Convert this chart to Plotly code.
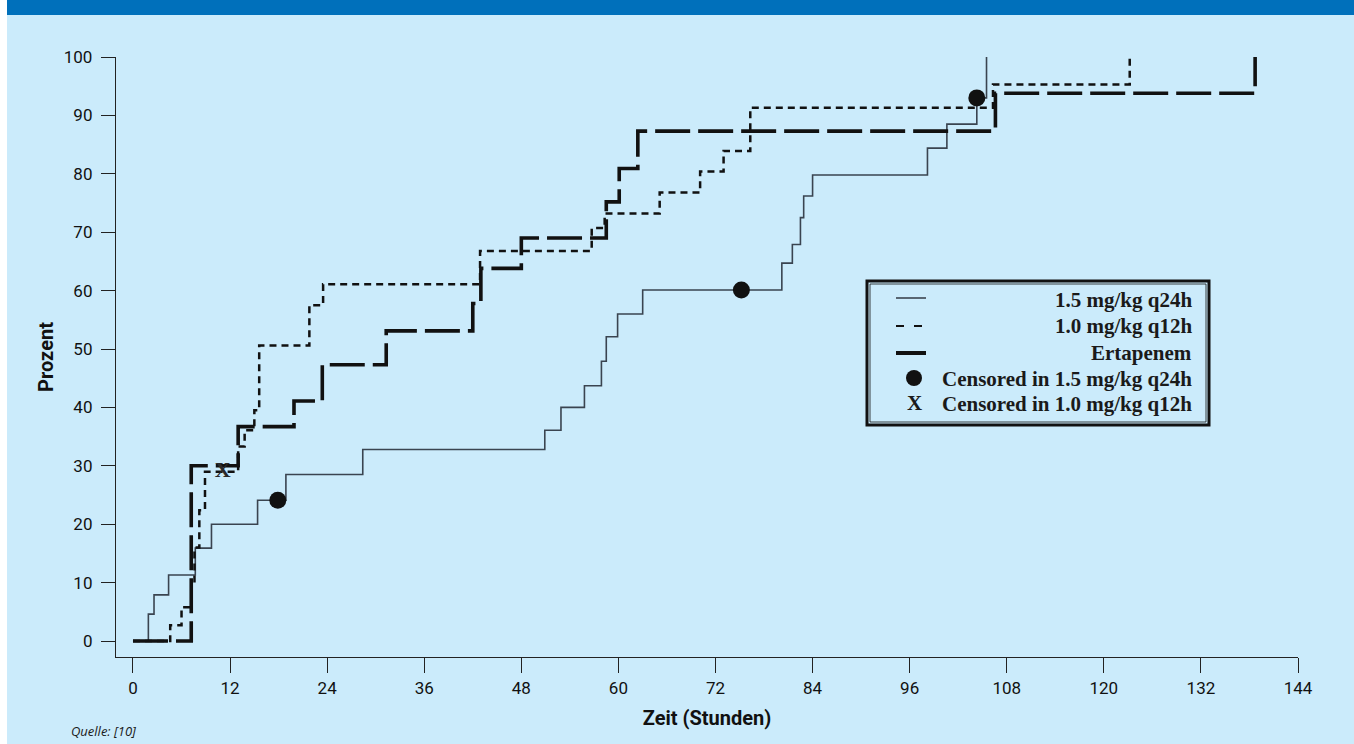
import plotly.graph_objects as go

# ---------------- data ----------------
q24_x = [0, 1.9, 2.6, 4.4, 7.7, 9.7, 15.4, 18.9, 28.4, 50.9, 52.9, 55.8, 57.9, 58.5, 59.9, 63.0,
         80.2, 81.5, 82.5, 82.9, 84.0, 98.2, 100.6, 104.3, 105.5]
q24_y = [0, 4.6, 7.9, 11.3, 15.9, 20.0, 24.1, 28.5, 32.8, 36.1, 40.0, 43.7, 47.9, 52.1, 56.0, 60.1,
         64.7, 67.9, 72.5, 76.2, 79.8, 84.4, 88.5, 93.0, 100.0]

q12_x = [0, 4.6, 6.0, 7.2, 7.6, 8.2, 8.9, 13.0, 13.8, 15.0, 15.6, 21.8, 23.5, 42.9, 56.7, 58.3,
         65.1, 70.1, 73.0, 76.3, 106.3, 123.2]
q12_y = [0, 2.7, 5.8, 10.0, 16.0, 22.4, 29.0, 33.3, 36.1, 39.5, 50.6, 57.5, 61.1, 66.8, 70.7, 73.2,
         76.8, 80.4, 83.9, 91.3, 95.3, 100.0]

erta_x = [0, 7.2, 13.0, 19.9, 23.4, 31.3, 42.0, 43.0, 48.0, 58.5, 60.1, 62.4, 106.6, 138.7]
erta_y = [0, 30.0, 36.7, 41.1, 47.3, 53.1, 57.8, 63.8, 69.0, 75.2, 80.9, 87.3, 93.8, 100.0]

cens_q24_x = [17.9, 75.2, 104.3]
cens_q24_y = [24.1, 60.1, 93.0]
cens_q12_x = [11.1]
cens_q12_y = [29.0]

x_ticks = [0, 12, 24, 36, 48, 60, 72, 84, 96, 108, 120, 132, 144]
y_ticks = [0, 10, 20, 30, 40, 50, 60, 70, 80, 90, 100]

legend_labels = ["1.5 mg/kg q24h", "1.0 mg/kg q12h", "Ertapenem",
                 "Censored in 1.5 mg/kg q24h", "Censored in 1.0 mg/kg q12h"]

# ---------------- layout helpers ----------------
W, H = 1354, 744
L, R, T, B = 116, 1298, 57, 657   # plot area in pixels
BG = "#CBEBFB"


def px(xp):
    return (xp - L) / (R - L)


def py(yp):
    return (B - yp) / (B - T)


fig = go.Figure()

fig.add_trace(go.Scatter(x=q24_x, y=q24_y, mode="lines", line=dict(shape="hv", color="#3a4450", width=1.6),
                         showlegend=False, name=legend_labels[0]))
fig.add_trace(go.Scatter(x=q12_x, y=q12_y, mode="lines",
                         line=dict(shape="hv", color="#111111", width=2.5, dash="7px,5px"),
                         showlegend=False, name=legend_labels[1]))
fig.add_trace(go.Scatter(x=erta_x, y=erta_y, mode="lines",
                         line=dict(shape="hv", color="#111111", width=3.6, dash="35px,8px"),
                         showlegend=False, name=legend_labels[2]))
fig.add_trace(go.Scatter(x=cens_q24_x, y=cens_q24_y, mode="markers",
                         marker=dict(size=17, color="#111111"), showlegend=False, name=legend_labels[3]))
fig.add_trace(go.Scatter(x=cens_q12_x, y=cens_q12_y, mode="text", text=["<b>X</b>"],
                         textfont=dict(family="Liberation Serif", size=22, color="#2a2a2a"),
                         showlegend=False, name=legend_labels[4]))

shapes = []
# white strip on the left and blue bar on the top
shapes.append(dict(type="rect", xref="paper", yref="paper", x0=px(0), x1=px(7), y0=py(H), y1=py(0),
                   fillcolor="white", line=dict(width=0), layer="below"))
shapes.append(dict(type="rect", xref="paper", yref="paper", x0=px(7), x1=px(W), y0=py(15), y1=py(0),
                   fillcolor="#0070BB", line=dict(width=0), layer="below"))
# legend box
shapes.append(dict(type="rect", xref="paper", yref="paper", x0=px(867), x1=px(1209), y0=py(425), y1=py(281),
                   line=dict(color="#111111", width=3), fillcolor=BG, layer="above"))
shapes.append(dict(type="rect", xref="paper", yref="paper", x0=px(870), x1=px(1206), y0=py(422), y1=py(284),
                   line=dict(color="#111111", width=0.8), fillcolor="rgba(0,0,0,0)", layer="above"))
# legend samples
shapes.append(dict(type="line", xref="paper", yref="paper", x0=px(896), x1=px(926), y0=py(298), y1=py(298),
                   line=dict(color="#3a4450", width=1.6), layer="above"))
shapes.append(dict(type="line", xref="paper", yref="paper", x0=px(896), x1=px(904), y0=py(326), y1=py(326),
                   line=dict(color="#111111", width=2), layer="above"))
shapes.append(dict(type="line", xref="paper", yref="paper", x0=px(914), x1=px(922), y0=py(326), y1=py(326),
                   line=dict(color="#111111", width=2), layer="above"))
shapes.append(dict(type="line", xref="paper", yref="paper", x0=px(896), x1=px(926), y0=py(353), y1=py(353),
                   line=dict(color="#111111", width=4), layer="above"))
shapes.append(dict(type="circle", xref="paper", yref="paper", x0=px(906), x1=px(922), y0=py(386), y1=py(370),
                   fillcolor="#111111", line=dict(width=0), layer="above"))

annotations = []
legend_y = [300, 326, 353, 379, 404]
for lab, yy in zip(legend_labels, legend_y):
    annotations.append(dict(xref="paper", yref="paper", x=px(1194), y=py(yy), text=f"<b>{lab}</b>",
                            showarrow=False, xanchor="right", yanchor="middle",
                            font=dict(family="Liberation Serif", size=21, color="#1a1a1a")))
annotations.append(dict(xref="paper", yref="paper", x=px(914), y=py(403), text="<b>X</b>", showarrow=False,
                        xanchor="center", yanchor="middle",
                        font=dict(family="Liberation Serif", size=21, color="#1a1a1a")))
annotations.append(dict(xref="paper", yref="paper", x=px(69), y=py(731), text="<i>Quelle: [10]</i>",
                        showarrow=False, xanchor="left", yanchor="middle",
                        font=dict(family="Open Sans", size=13, color="#1a1a1a")))

fig.update_layout(
    width=W, height=H,
    margin=dict(l=L, r=W - R, t=T, b=H - B),
    paper_bgcolor=BG, plot_bgcolor=BG,
    shapes=shapes, annotations=annotations,
    font=dict(family="Roboto", color="#1a1a1a"),
)
fig.update_xaxes(range=[-2.1, 144], tickvals=x_ticks, ticktext=[str(v) for v in x_ticks],
                 showgrid=False, zeroline=False, showline=True, linecolor="#222222", linewidth=1.3,
                 ticks="outside", ticklen=15, tickwidth=1.3, tickcolor="#222222",
                 tickfont=dict(family="Roboto", size=17, color="#111111"),
                 title=dict(text="<b>Zeit (Stunden)</b>", font=dict(family="Roboto", size=20, color="#111111"),
                            standoff=14))
fig.update_yaxes(range=[-2.74, 100], tickvals=y_ticks, ticktext=[str(v) for v in y_ticks],
                 showgrid=False, zeroline=False, showline=True, linecolor="#222222", linewidth=1.3,
                 ticks="outside", ticklen=14, tickwidth=1.3, tickcolor="#222222", ticklabelstandoff=5,
                 tickfont=dict(family="Roboto", size=17, color="#111111"),
                 title=dict(text="<b>Prozent</b>", font=dict(family="Roboto", size=20, color="#111111"),
                            standoff=4))

fig.write_html("out.html", config={"displayModeBar": False},
               post_script="document.body.style.margin='0';document.body.style.overflow='hidden';")
